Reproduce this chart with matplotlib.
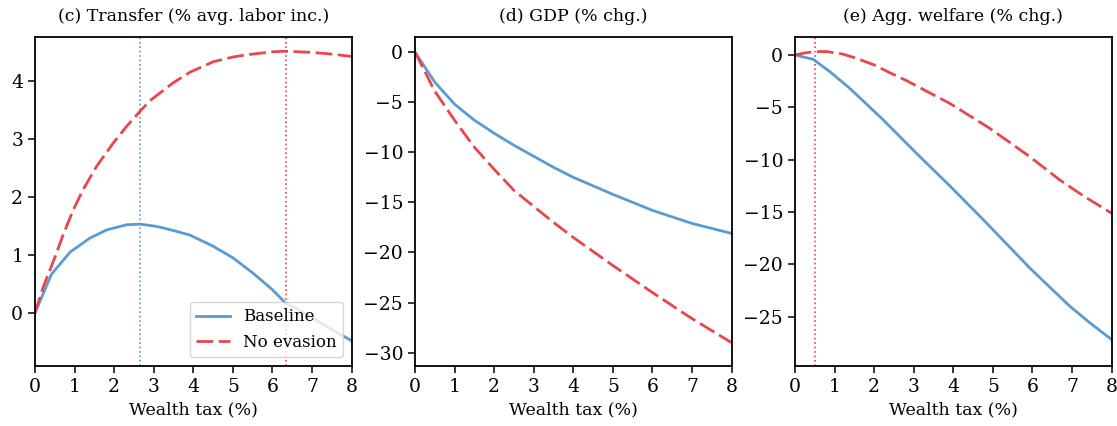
import numpy as np
import matplotlib
matplotlib.use('Agg')
import matplotlib.pyplot as plt

plt.rcParams['font.family'] = ['DejaVu Serif']
plt.rcParams['font.size'] = 13
plt.rcParams['axes.unicode_minus'] = True

blue = '#5a9bd3'
red = '#e8464d'

# (c) transfer, % of average labor income
tr_x_base = [0, 0.42, 0.89, 1.39, 1.81, 2.32, 2.66, 3.08, 3.5, 3.92, 4.5, 5.0, 5.5, 6.0, 6.33, 6.5, 7.0, 7.38, 8.0]
tr_base = [0, 0.67, 1.05, 1.29, 1.43, 1.52, 1.53, 1.49, 1.42, 1.34, 1.15, 0.95, 0.69, 0.40, 0.17, 0.11, -0.08, -0.24, -0.48]
tr_x_noev = [0, 0.21, 0.51, 0.72, 0.97, 1.22, 1.56, 1.98, 2.32, 2.66, 2.91, 3.5, 3.92, 4.51, 5.0, 5.36, 6.0, 6.33, 7.0, 7.5, 8.0]
tr_noev = [0, 0.45, 0.97, 1.36, 1.78, 2.13, 2.53, 2.93, 3.22, 3.48, 3.66, 3.97, 4.15, 4.33, 4.41, 4.45, 4.50, 4.51, 4.49, 4.46, 4.42]
tr_peak_base = 2.66
tr_peak_noev = 6.33

# (d) GDP, % change
gdp_x = [0, 0.5, 1, 1.5, 2, 2.5, 3, 3.5, 4, 5, 6, 7, 8]
gdp_base = [0, -3.0, -5.2, -6.8, -8.1, -9.3, -10.4, -11.5, -12.5, -14.2, -15.8, -17.1, -18.1]
gdp_noev = [0, -3.9, -6.8, -9.5, -11.7, -13.8, -15.4, -17.0, -18.5, -21.3, -24.0, -26.6, -29.0]

# (e) aggregate welfare, % change
wf_x_base = [0, 0.46, 0.88, 1.39, 2.23, 3.07, 3.91, 4.76, 5.6, 5.93, 6.44, 6.94, 7.45, 8.0]
wf_base = [0, -0.41, -1.59, -3.2, -6.2, -9.4, -12.5, -15.75, -19.05, -20.35, -22.2, -24.0, -25.6, -27.2]
wf_x_noev = [0, 0.25, 0.5, 0.8, 1.2, 1.56, 2.0, 2.4, 2.82, 3.91, 4.92, 5.93, 6.69, 7.3, 8.0]
wf_noev = [0, 0.2, 0.32, 0.33, 0.1, -0.32, -0.95, -1.7, -2.45, -4.62, -7.0, -9.71, -11.94, -13.5, -15.12]
wf_peak_noev = 0.5

fig = plt.figure(figsize=(11.17, 4.26), dpi=100)
lefts = [0.0313, 0.3715, 0.7117]
axes = [fig.add_axes([l, 0.1415, 0.2835, 0.7723]) for l in lefts]

def style(ax, title):
    ax.set_title(title, fontsize=12.5, pad=11)
    ax.set_xlabel('Wealth tax (%)', fontsize=12.5)
    ax.set_xlim(0, 8)
    ax.set_xticks(range(9))
    ax.tick_params(direction='out', length=5, width=1.1, labelsize=13.5)
    for s in ax.spines.values():
        s.set_linewidth(1.3)

ax = axes[0]
ax.axvline(tr_peak_base, color=blue, ls=':', lw=1.2)
ax.axvline(tr_peak_noev, color=red, ls=':', lw=1.2)
ax.plot(tr_x_base, tr_base, color=blue, lw=2, label='Baseline')
ax.plot(tr_x_noev, tr_noev, color=red, lw=2, dashes=(6, 2), label='No evasion')
ax.set_ylim(-0.91, 4.76)
ax.set_yticks([0, 1, 2, 3, 4])
style(ax, '(c) Transfer (% avg. labor inc.)')
ax.legend(loc='lower right', fontsize=12, framealpha=0.8, handlelength=2)

ax = axes[1]
ax.plot(gdp_x, gdp_base, color=blue, lw=2)
ax.plot(gdp_x, gdp_noev, color=red, lw=2, dashes=(6, 2))
ax.set_ylim(-31.3, 1.53)
ax.set_yticks([0, -5, -10, -15, -20, -25, -30])
style(ax, '(d) GDP (% chg.)')

ax = axes[2]
ax.axvline(wf_peak_noev, color=red, ls=':', lw=1.2)
ax.plot(wf_x_base, wf_base, color=blue, lw=2)
ax.plot(wf_x_noev, wf_noev, color=red, lw=2, dashes=(6, 2))
ax.set_ylim(-29.7, 1.75)
ax.set_yticks([0, -5, -10, -15, -20, -25])
style(ax, '(e) Agg. welfare (% chg.)')

fig.savefig('out.png', dpi=100)
